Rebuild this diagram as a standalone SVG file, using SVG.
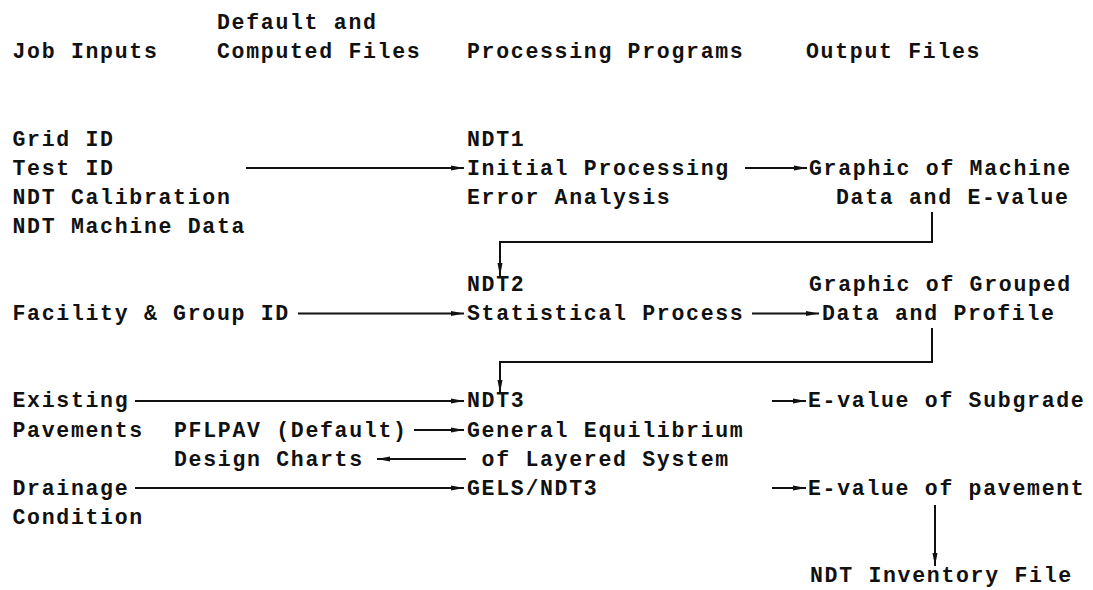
<svg xmlns="http://www.w3.org/2000/svg" width="1093" height="590" viewBox="0 0 1093 590">
<style>
text{font-family:"Liberation Mono","DejaVu Sans Mono",monospace;font-size:21.5px;letter-spacing:1.7px;font-weight:bold;fill:#111}
.c{fill:none;stroke:#111;stroke-width:2}
</style>
<defs>
<marker id="a" markerUnits="userSpaceOnUse" markerWidth="14" markerHeight="8" refX="13" refY="4" orient="auto"><path d="M0,1.5 L13,4 L0,6.5 Z" fill="#111"/></marker>
</defs>
<rect width="1093" height="590" fill="#fff"/>
<g id="headers">
<text x="12.5" y="58">Job Inputs</text>
<text x="217" y="29">Default and</text>
<text x="217" y="58">Computed Files</text>
<text x="467" y="58">Processing Programs</text>
<text x="806" y="58">Output Files</text>
</g>
<g id="job-inputs-1">
<text x="12.5" y="145.5">Grid ID</text>
<text x="12.5" y="174.6">Test ID</text>
<text x="12.5" y="203.7">NDT Calibration</text>
<text x="12.5" y="232.8">NDT Machine Data</text>
</g>
<g id="ndt1">
<text x="467" y="145.5">NDT1</text>
<text x="467" y="174.6">Initial Processing</text>
<text x="467" y="203.7">Error Analysis</text>
</g>
<g id="out1">
<text x="809" y="174.6">Graphic of Machine</text>
<text x="836" y="203.7">Data and E-value</text>
</g>
<g id="job-inputs-2">
<text x="12.5" y="320">Facility &amp; Group ID</text>
</g>
<g id="ndt2">
<text x="467" y="291">NDT2</text>
<text x="467" y="320">Statistical Process</text>
</g>
<g id="out2">
<text x="809" y="291">Graphic of Grouped</text>
<text x="822" y="320">Data and Profile</text>
</g>
<g id="existing">
<text x="12.5" y="407.4">Existing</text>
<text x="12.5" y="436.5">Pavements</text>
</g>
<g id="pflpav"><text x="174" y="436.5">PFLPAV (Default)</text></g>
<g id="design-charts"><text x="174" y="465.6">Design Charts</text></g>
<g id="ndt3">
<text x="467" y="407.4">NDT3</text>
<text x="467" y="436.5">General Equilibrium</text>
<text x="481.6" y="465.6">of Layered System</text>
<text x="467" y="494.7">GELS/NDT3</text>
</g>
<g id="drainage">
<text x="12.5" y="494.7">Drainage</text>
<text x="12.5" y="523.8">Condition</text>
</g>
<g id="out-subgrade"><text x="808" y="407.4">E-value of Subgrade</text></g>
<g id="out-pavement"><text x="808" y="494.7">E-value of pavement</text></g>
<g id="inventory"><text x="810" y="582">NDT Inventory File</text></g>
<g id="connectors">
<path class="c" d="M246,168 H464" marker-end="url(#a)"/>
<path class="c" d="M745,168 H807" marker-end="url(#a)"/>
<path class="c" d="M932,212 V242 H500 V276" marker-end="url(#a)"/>
<path class="c" d="M298,313.5 H464" marker-end="url(#a)"/>
<path class="c" d="M752,313.5 H819" marker-end="url(#a)"/>
<path class="c" d="M932,328 V362 H500 V393" marker-end="url(#a)"/>
<path class="c" d="M135,401 H464" marker-end="url(#a)"/>
<path class="c" d="M772,401 H806" marker-end="url(#a)"/>
<path class="c" d="M414,430 H464" marker-end="url(#a)"/>
<path class="c" d="M466,459 H377" marker-end="url(#a)"/>
<path class="c" d="M135,488 H464" marker-end="url(#a)"/>
<path class="c" d="M772,488 H806" marker-end="url(#a)"/>
<path class="c" d="M935,505 V566" marker-end="url(#a)"/>
</g>
</svg>
